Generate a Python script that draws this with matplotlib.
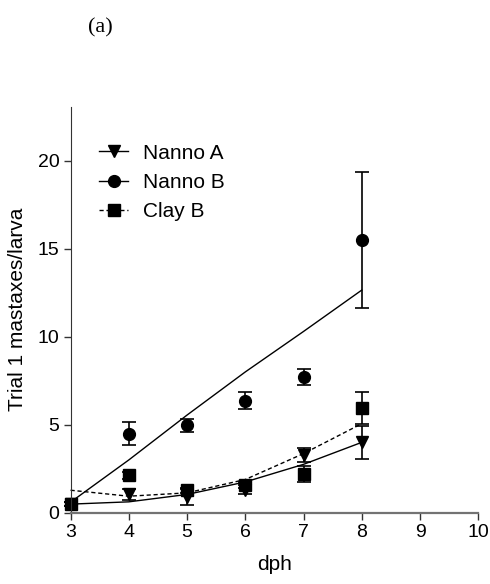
import matplotlib.pyplot as plt

plt.rcParams['font.family'] = ['Liberation Sans', 'DejaVu Sans']

# data
dph = [3, 4, 5, 6, 7, 8]
nanno_a = [0.5, 1.05, 0.9, 1.3, 3.27, 4.0]
nanno_a_err = [0.1, 0.3, 0.45, 0.25, 0.4, 0.93]
nanno_b = [0.5, 4.49, 4.96, 6.37, 7.7, 15.5]
nanno_b_err = [0.1, 0.64, 0.35, 0.5, 0.45, 3.85]
clay_b = [0.5, 2.13, 1.28, 1.57, 2.19, 5.94]
clay_b_err = [0.1, 0.2, 0.15, 0.15, 0.47, 0.9]

# fitted curves (values read at each dph)
fit_a = [0.49, 0.62, 1.04, 1.75, 2.75, 4.0]
fit_b = [0.6, 3.0, 5.55, 8.0, 10.3, 12.65]
fit_clay = [1.28, 0.94, 1.13, 1.89, 3.36, 5.06]

fig = plt.figure(figsize=(4.9, 5.84), dpi=100)
ax = fig.add_axes([0.144, 0.122, 0.832, 0.695])

ax.plot(dph, fit_a, color='black', lw=1.0, clip_on=False)
ax.plot(dph, fit_b, color='black', lw=1.0, clip_on=False)
ax.plot(dph, fit_clay, color='black', lw=1.0, ls=(0, (3, 2)), clip_on=False)

kw = dict(ls='none', color='black', ecolor='black', elinewidth=1.2,
          capsize=5, capthick=1.2, markersize=8.5, clip_on=False)
ax.errorbar(dph, nanno_a, yerr=nanno_a_err, marker='v', **kw)
ax.errorbar(dph, nanno_b, yerr=nanno_b_err, marker='o', **kw)
ax.errorbar(dph, clay_b, yerr=clay_b_err, marker='s', **kw)

# legend proxies
ax.plot([], [], color='black', lw=1.0, marker='v', markersize=8.5, label='Nanno A')
ax.plot([], [], color='black', lw=1.0, marker='o', markersize=8.5, label='Nanno B')
ax.plot([], [], color='black', lw=1.0, ls=(0, (3, 2)), marker='s', markersize=8.5,
        label='Clay B')
h, l = ax.get_legend_handles_labels()
ax.legend(h[-3:], l[-3:], loc='upper left', bbox_to_anchor=(0.05, 0.93),
          frameon=False, fontsize=15, handlelength=1.4, handletextpad=0.7,
          labelspacing=0.5, borderaxespad=0)

ax.set_xlim(3, 10)
ax.set_ylim(0, 23.06)
ax.set_xticks(range(3, 11))
ax.set_yticks([0, 5, 10, 15, 20])
ax.tick_params(direction='out', length=5, width=1, labelsize=14, color='0.2', pad=3)
for s in ['top', 'right']:
    ax.spines[s].set_visible(False)
ax.spines['left'].set_color('0.2')
ax.spines['bottom'].set_color('0.45')
ax.spines['bottom'].set_linewidth(1.6)

ax.set_xlabel('dph', fontsize=15, labelpad=10)
ax.set_ylabel('Trial 1 mastaxes/larva', fontsize=15, labelpad=8)

fig.text(0.205, 0.953, '(a)', family='Liberation Serif', fontsize=16,
         ha='center', va='center')

fig.savefig('out.png', dpi=100)
